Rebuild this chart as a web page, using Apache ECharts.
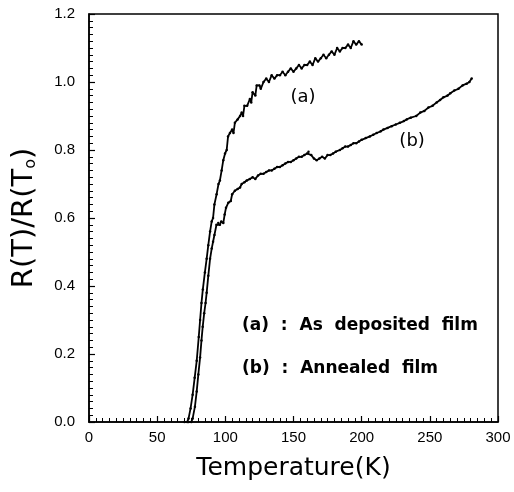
<!DOCTYPE html>
<html>
<head>
<meta charset="utf-8">
<script src="https://cdn.jsdelivr.net/npm/echarts@6/dist/echarts.min.js"></script>
<style>
  html, body { margin: 0; padding: 0; background: #fff; }
  #chart { width: 514px; height: 492px; }
</style>
</head>
<body>
<div id="chart"></div>
<script>
// (a) as deposited film: [T (K), R(T)/R(To)]
const depositedFilm = [
  [70, 0], [72, 0], [73, 0.01], [74.5, 0.04], [76, 0.08], [77.5, 0.13], [79, 0.18],
  [80.5, 0.25], [81.5, 0.30], [82.5, 0.35], [83.5, 0.39], [85, 0.44], [86.3, 0.48],
  [87.5, 0.52], [88.8, 0.56], [90, 0.59], [91, 0.60], [92, 0.64], [93.6, 0.67],
  [95, 0.70], [96, 0.71], [97.3, 0.74], [98.5, 0.77], [99.8, 0.79], [101, 0.80],
  [102, 0.84], [103.4, 0.85], [105, 0.86], [106, 0.85], [107, 0.88], [109, 0.89],
  [110.8, 0.90], [112, 0.91], [113, 0.90], [114, 0.93], [116, 0.93], [118, 0.95],
  [119, 0.94], [120, 0.97], [122, 0.96], [123, 0.99], [125, 0.99], [126, 0.98],
  [128, 1.00], [130, 1.01], [132, 1.00], [134, 1.02], [136, 1.01], [138, 1.02],
  [140, 1.02], [142, 1.03], [144, 1.02], [146, 1.03], [148, 1.04], [150, 1.03],
  [152, 1.04], [154, 1.05], [156, 1.04], [158, 1.05], [160, 1.05], [162, 1.06],
  [164, 1.05], [166, 1.07], [168, 1.06], [170, 1.07], [172, 1.08], [174, 1.07],
  [176, 1.08], [178, 1.09], [180, 1.08], [182, 1.10], [184, 1.09], [186, 1.10],
  [188, 1.10], [190, 1.11], [192, 1.10], [194, 1.12], [196, 1.11], [198, 1.12],
  [200, 1.11]
];

// (b) annealed film
const annealedFilm = [
  [73, 0], [75, 0], [76, 0.01], [77.7, 0.045], [79, 0.09], [80.2, 0.14], [81.5, 0.19],
  [82.5, 0.24], [83.4, 0.28], [84.5, 0.32], [85.5, 0.35], [86.3, 0.38], [87.5, 0.43],
  [88.8, 0.48], [90, 0.51], [91, 0.53], [92, 0.55], [93.5, 0.58], [94.8, 0.585],
  [96, 0.58], [97, 0.59], [98.5, 0.585], [99.5, 0.61], [100.5, 0.63], [102.2, 0.645],
  [104, 0.65], [105, 0.67], [107, 0.68], [109, 0.685], [110.8, 0.69], [112, 0.70],
  [114, 0.705], [115.7, 0.71], [118, 0.715], [120, 0.72], [122, 0.715], [124, 0.725],
  [126, 0.73], [128, 0.73], [130, 0.735], [132, 0.74], [134, 0.74], [136, 0.745],
  [138, 0.75], [140, 0.75], [142, 0.755], [144, 0.76], [146, 0.765], [148, 0.765],
  [150, 0.77], [152, 0.775], [154, 0.78], [156, 0.78], [158, 0.785], [160, 0.79],
  [161, 0.795], [163, 0.785], [165, 0.775], [167, 0.77], [169, 0.775], [171, 0.78],
  [173, 0.775], [175, 0.785], [177, 0.785], [179, 0.79], [181, 0.795], [184, 0.80],
  [186, 0.805], [188, 0.81], [190, 0.81], [192, 0.815], [194, 0.82], [196, 0.82],
  [198, 0.825], [200, 0.83], [203, 0.835], [206, 0.84], [208.5, 0.845], [211, 0.85],
  [214, 0.855], [216, 0.86], [219, 0.865], [222, 0.87], [225, 0.875], [228, 0.88],
  [231, 0.885], [233, 0.89], [236, 0.895], [240, 0.90], [243, 0.91], [246, 0.915],
  [249, 0.925], [252, 0.93], [255, 0.94], [257.5, 0.947], [260, 0.955], [263, 0.96],
  [265, 0.967], [268, 0.975], [271, 0.98], [274, 0.99], [277, 0.995], [279, 1.0],
  [280.7, 1.01]
];

const legendLines = ["(a)  :  As  deposited  film", "(b)  :  Annealed  film"];

const chart = echarts.init(document.getElementById("chart"));

const axisBase = {
  axisLine: { show: true, lineStyle: { color: "#000", width: 1.5 } },
  axisTick: { show: true, inside: true, length: 6, lineStyle: { color: "#000", width: 1.2 } },
  minorTick: { show: true, splitNumber: 10, length: 4, lineStyle: { color: "#000", width: 1 } },
  splitLine: { show: false },
  axisLabel: { color: "#000", fontFamily: "Liberation Sans", fontSize: 15 },
};

const curve = (name, data, tag, coord) => ({
  name,
  type: "line",
  data,
  showSymbol: true,
  symbol: "circle",
  symbolSize: 2.5,
  lineStyle: { color: "#000", width: 1.8 },
  itemStyle: { color: "#000" },
  markPoint: {
    symbol: "circle",
    symbolSize: 1,
    itemStyle: { color: "rgba(0,0,0,0)" },
    label: {
      show: true,
      formatter: tag,
      color: "#000",
      fontFamily: "DejaVu Sans",
      fontSize: 18,
      position: "inside",
    },
    data: [{ coord }],
  },
});

const option = {
  animation: false,
  backgroundColor: "#fff",
  grid: {
    left: 89,
    right: 16,
    top: 14,
    bottom: 70,
    show: true,
    borderColor: "#000",
    borderWidth: 1.5,
  },
  xAxis: {
    ...axisBase,
    type: "value",
    min: 0,
    max: 300,
    interval: 50,
    name: "Temperature(K)",
    nameLocation: "middle",
    nameGap: 34,
    nameTextStyle: { color: "#000", fontFamily: "DejaVu Sans", fontSize: 25 },
  },
  yAxis: {
    ...axisBase,
    type: "value",
    min: 0,
    max: 1.2,
    interval: 0.2,
    axisLabel: { ...axisBase.axisLabel, formatter: v => v.toFixed(1), margin: 14 },
    name: "{a|R(T)/R(T}{s|o}{a|)}",
    nameLocation: "middle",
    nameGap: 50,
    nameTextStyle: {
      color: "#000",
      rich: {
        a: { fontFamily: "DejaVu Sans", fontSize: 29, color: "#000" },
        s: { fontFamily: "DejaVu Sans", fontSize: 16, color: "#000", padding: [13, 0, 0, 0] },
      },
    },
  },
  graphic: legendLines.map((text, i) => ({
    type: "text",
    left: 242,
    top: 317 + i * 43,
    style: { text, fill: "#000", font: "bold 17px 'DejaVu Sans'" },
  })),
  series: [
    curve("(a)", depositedFilm, "(a)", [157, 0.956]),
    curve("(b)", annealedFilm, "(b)", [237, 0.826]),
  ],
};

chart.setOption(option);
</script>
</body>
</html>
